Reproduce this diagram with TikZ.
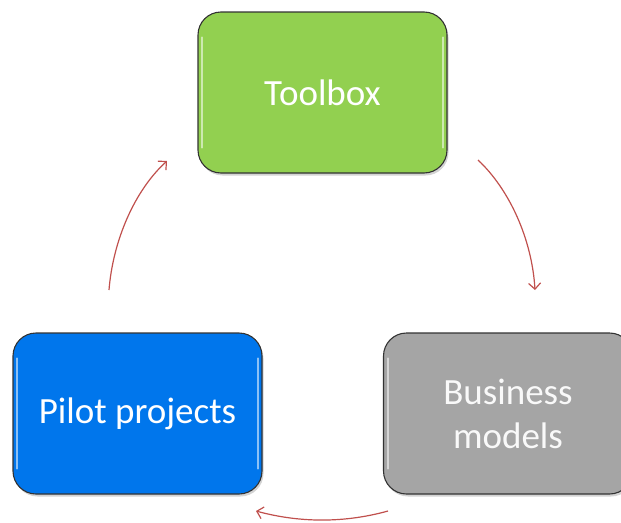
\documentclass[tikz,border=0pt]{standalone}
\usepackage{fontspec}
\setmainfont{Carlito}
\usetikzlibrary{arrows.meta,shadows,calc}
\definecolor{boxgreen}{RGB}{146,208,80}
\definecolor{boxblue}{RGB}{0,118,236}
\definecolor{boxgray}{RGB}{165,165,165}
\definecolor{arrowred}{RGB}{192,80,77}
\tikzset{
  stagebox/.style={draw=black!80, line width=1.1pt, rounded corners=23pt,
    minimum width=249pt, minimum height=161pt, align=center, text=white,
    font=\fontsize{37}{44}\selectfont,
    drop shadow={opacity=0.35, shadow xshift=1.5pt, shadow yshift=-2.5pt}},
  glint/.style={white, opacity=0.55, line width=2pt, line cap=round},
  cyclearrow/.style={arrowred, line width=1.2pt,
    -{Straight Barb[length=6pt,width=12pt]}}
}
\begin{document}
\begin{tikzpicture}[x=1pt,y=-1pt]
\useasboundingbox (0,0) rectangle (621,522);
\clip (0,0) rectangle (621,522);
\node[stagebox, fill=boxgreen] (tool) at (322.5,92.5) {Toolbox};
\node[stagebox, fill=boxblue] (pilot) at (137.5,413.5) {Pilot projects};
\node[stagebox, fill=boxgray, text=white!95!gray] (biz) at (508,413.5) {Business\\models};
\foreach \n in {tool,pilot,biz}{
  \draw[glint] ($(\n.north west)+(5,26)$) -- ($(\n.south west)+(5,-26)$);
  \draw[glint] ($(\n.north east)+(-5,26)$) -- ($(\n.south east)+(-5,-26)$);
}
\coordinate (a1s) at (478,160);
\coordinate (a1e) at (535,290);
\coordinate (a2s) at (388,511);
\coordinate (a2e) at (256,511);
\coordinate (a3s) at (109,290);
\coordinate (a3e) at (167,161);
\draw[cyclearrow] (a1s) .. controls (510,190) and (532,240) .. (a1e);
\draw[cyclearrow] (a2s) .. controls (345,523) and (300,523) .. (a2e);
\draw[cyclearrow] (a3s) .. controls (113,240) and (135,190) .. (a3e);
\end{tikzpicture}
\end{document}
